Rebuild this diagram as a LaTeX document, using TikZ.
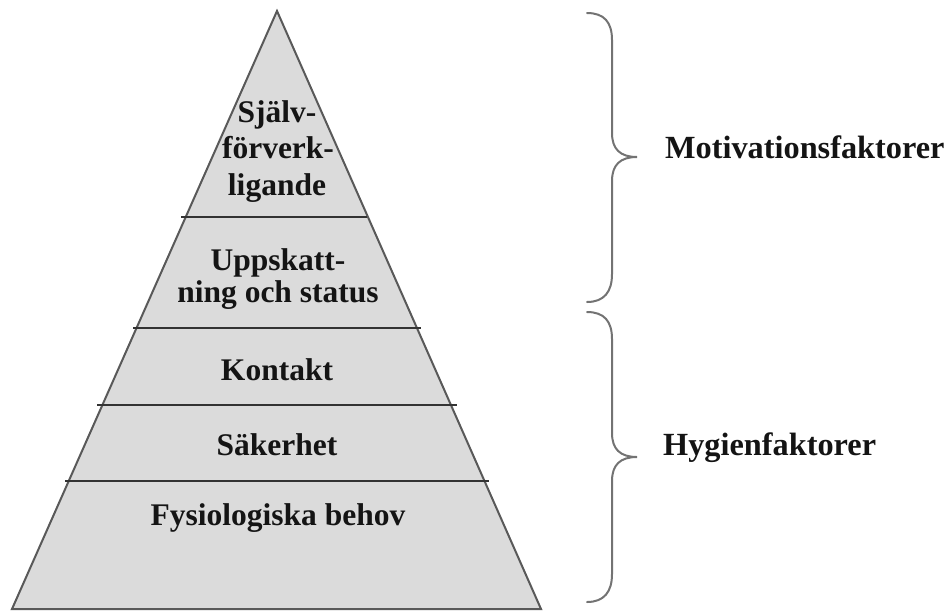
\documentclass[tikz,border=0pt]{standalone}
\usepackage{fontspec}
\setmainfont{Liberation Serif}
\begin{document}
\begin{tikzpicture}[x=1pt,y=-1pt,
  lbl/.style={inner sep=0pt,anchor=base,font=\fontsize{31.5}{32}\selectfont\bfseries,text=black!92},
  side/.style={inner sep=0pt,anchor=base west,font=\fontsize{32.3}{33}\selectfont\bfseries,text=black!92},
  tier/.style={draw=black!80,line width=1.6pt},
  brace/.style={draw=black!55,line width=2pt,line cap=round}]
\useasboundingbox (0,0) rectangle (949,611);
% pyramid
\coordinate (apex) at (277,11);
\coordinate (bl) at (12,609);
\coordinate (br) at (541,609);
\filldraw[fill=black!14,draw=black!65,line width=2pt,line join=miter] (apex) -- (br) -- (bl) -- cycle;
% tier lines
\coordinate (l1a) at (181,217); \coordinate (l1b) at (367,217);
\coordinate (l2a) at (133,328); \coordinate (l2b) at (421,328);
\coordinate (l3a) at (97,405);  \coordinate (l3b) at (457,405);
\coordinate (l4a) at (65,481);  \coordinate (l4b) at (489,481);
\draw[tier] (l1a) -- (l1b);
\draw[tier] (l2a) -- (l2b);
\draw[tier] (l3a) -- (l3b);
\draw[tier] (l4a) -- (l4b);
% texts
\node[lbl] (t1) at (277,122) {Själv-};
\node[lbl] (t2) at (278,158) {förverk-};
\node[lbl] (t3) at (277,195) {ligande};
\node[lbl] (t4) at (278,270) {Uppskatt-};
\node[lbl] (t5) at (278,302) {ning och status};
\node[lbl] (t6) at (277,380) {Kontakt};
\node[lbl] (t7) at (277,455) {Säkerhet};
\node[lbl] (t8) at (278,525) {Fysiologiska behov};
% braces
\draw[brace] (587,13) .. controls (604,13) and (612,22) .. (612,40) -- (612,133)
  .. controls (612,149) and (620,157) .. (637,157)
  .. controls (620,157) and (612,165) .. (612,181) -- (612,274)
  .. controls (612,292) and (604,302) .. (587,302);
\draw[brace] (587,312) .. controls (604,312) and (612,321) .. (612,339) -- (612,433)
  .. controls (612,449) and (620,457) .. (637,457)
  .. controls (620,457) and (612,465) .. (612,481) -- (612,574)
  .. controls (612,592) and (604,602) .. (587,602);
\node[side] (m) at (665,158) {Motivationsfaktorer};
\node[side] (h) at (663,455) {Hygienfaktorer};
\end{tikzpicture}
\end{document}
